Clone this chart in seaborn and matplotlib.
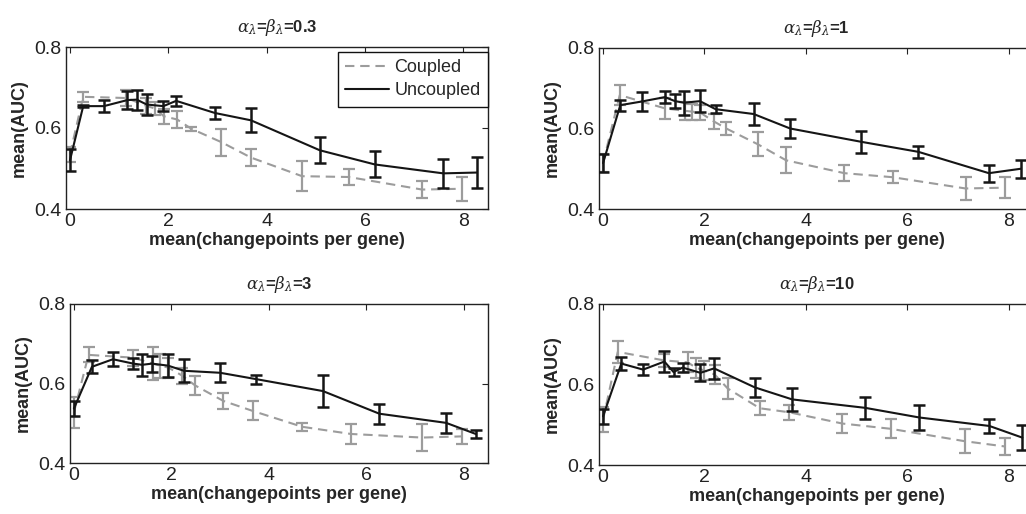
import matplotlib
matplotlib.use("Agg")
import matplotlib.pyplot as plt
import seaborn as sns
import pandas as pd

# ---------------- data ----------------
titles = [r"$\alpha_\lambda$=$\beta_\lambda$=0.3", r"$\alpha_\lambda$=$\beta_\lambda$=1",
          r"$\alpha_\lambda$=$\beta_\lambda$=3", r"$\alpha_\lambda$=$\beta_\lambda$=10"]
series_names = ["Coupled", "Uncoupled"]
x_ticks = [0, 2, 4, 6, 8]
y_ticks = [0.4, 0.6, 0.8]

unc_x_03 = [0.0, 0.27, 0.69, 1.17, 1.36, 1.56, 1.90, 2.16, 2.95, 3.68, 5.08, 6.20, 7.59, 8.27]
unc_y_03 = [0.520, 0.654, 0.654, 0.669, 0.670, 0.658, 0.654, 0.667, 0.637, 0.619, 0.545, 0.510, 0.488, 0.490]
unc_e_03 = [0.027, 0.003, 0.015, 0.022, 0.025, 0.027, 0.012, 0.013, 0.016, 0.030, 0.032, 0.032, 0.035, 0.038]
cou_x_03 = [0.0, 0.27, 1.15, 1.55, 1.73, 1.91, 2.18, 2.47, 3.08, 3.68, 4.72, 5.67, 7.16, 7.97]
cou_y_03 = [0.535, 0.677, 0.674, 0.655, 0.648, 0.629, 0.621, 0.598, 0.565, 0.527, 0.481, 0.479, 0.448, 0.450]
cou_e_03 = [0.018, 0.012, 0.020, 0.020, 0.017, 0.018, 0.020, 0.005, 0.033, 0.020, 0.037, 0.020, 0.020, 0.030]

unc_x_1 = [0.0, 0.34, 0.76, 1.22, 1.42, 1.60, 1.91, 2.22, 2.97, 3.69, 5.09, 6.22, 7.61, 8.24]
unc_y_1 = [0.514, 0.658, 0.667, 0.678, 0.668, 0.664, 0.668, 0.648, 0.636, 0.600, 0.567, 0.542, 0.489, 0.500]
unc_e_1 = [0.023, 0.014, 0.023, 0.014, 0.018, 0.030, 0.027, 0.010, 0.027, 0.024, 0.028, 0.015, 0.021, 0.022]
cou_x_1 = [0.0, 0.33, 1.22, 1.61, 1.75, 1.91, 2.18, 2.43, 3.05, 3.61, 4.76, 5.71, 7.15, 7.92]
cou_y_1 = [0.515, 0.683, 0.650, 0.644, 0.642, 0.640, 0.618, 0.600, 0.561, 0.521, 0.489, 0.479, 0.451, 0.453]
cou_e_1 = [0.022, 0.025, 0.027, 0.022, 0.020, 0.019, 0.019, 0.017, 0.030, 0.032, 0.020, 0.015, 0.028, 0.026]

unc_x_3 = [0.0, 0.37, 0.80, 1.22, 1.40, 1.60, 1.93, 2.26, 3.00, 3.74, 5.11, 6.27, 7.64, 8.25]
unc_y_3 = [0.537, 0.642, 0.661, 0.650, 0.647, 0.650, 0.645, 0.632, 0.627, 0.611, 0.581, 0.524, 0.501, 0.473]
unc_e_3 = [0.019, 0.016, 0.017, 0.014, 0.027, 0.020, 0.028, 0.029, 0.024, 0.011, 0.041, 0.025, 0.026, 0.010]
cou_x_3 = [0.0, 0.30, 1.22, 1.62, 1.77, 1.94, 2.22, 2.49, 3.07, 3.67, 4.69, 5.69, 7.15, 7.97]
cou_y_3 = [0.527, 0.672, 0.665, 0.650, 0.645, 0.640, 0.620, 0.595, 0.556, 0.531, 0.491, 0.473, 0.464, 0.467]
cou_e_3 = [0.038, 0.019, 0.020, 0.042, 0.030, 0.025, 0.020, 0.024, 0.021, 0.024, 0.010, 0.024, 0.035, 0.018]

unc_x_10 = [0.0, 0.36, 0.79, 1.21, 1.39, 1.57, 1.92, 2.19, 2.99, 3.73, 5.17, 6.24, 7.62, 8.27]
unc_y_10 = [0.521, 0.652, 0.637, 0.657, 0.631, 0.642, 0.629, 0.640, 0.593, 0.563, 0.542, 0.518, 0.497, 0.468]
unc_e_10 = [0.019, 0.016, 0.013, 0.025, 0.011, 0.011, 0.021, 0.027, 0.024, 0.028, 0.027, 0.030, 0.018, 0.031]
cou_x_10 = [0.0, 0.29, 1.20, 1.67, 1.83, 1.99, 2.20, 2.46, 3.09, 3.67, 4.72, 5.67, 7.14, 7.93]
cou_y_10 = [0.513, 0.681, 0.660, 0.655, 0.642, 0.635, 0.625, 0.590, 0.541, 0.531, 0.503, 0.490, 0.459, 0.446]
cou_e_10 = [0.031, 0.028, 0.017, 0.025, 0.025, 0.023, 0.023, 0.025, 0.017, 0.018, 0.024, 0.024, 0.030, 0.022]

panels = [
    (cou_x_03, cou_y_03, cou_e_03, unc_x_03, unc_y_03, unc_e_03),
    (cou_x_1, cou_y_1, cou_e_1, unc_x_1, unc_y_1, unc_e_1),
    (cou_x_3, cou_y_3, cou_e_3, unc_x_3, unc_y_3, unc_e_3),
    (cou_x_10, cou_y_10, cou_e_10, unc_x_10, unc_y_10, unc_e_10),
]

# ---------------- style ----------------
sns.set_theme(style="white")
plt.rcParams["font.family"] = ["Liberation Sans", "DejaVu Sans"]
plt.rcParams["mathtext.fontset"] = "dejavuserif"
plt.rcParams["xtick.direction"] = "in"
plt.rcParams["ytick.direction"] = "in"

GRAY = "#9c9c9c"
BLACK = "#151515"
palette = {"Coupled": GRAY, "Uncoupled": BLACK}
dashes = {"Coupled": (4.5, 2.8), "Uncoupled": ""}

W, H = 1026, 514
fig = plt.figure(figsize=(W / 100, H / 100), dpi=100)

def frac(l, r, t, b):
    return [l / W, 1 - b / H, (r - l) / W, (b - t) / H]

boxes = [frac(66, 488, 47, 209), frac(599, 1034, 48, 209),
         frac(70, 488, 304, 463), frac(599, 1034, 304, 465)]

for i, (box, data, title) in enumerate(zip(boxes, panels, titles)):
    cx, cy, ce, ux, uy, ue = data
    ax = fig.add_axes(box)
    df = pd.DataFrame({
        "x": list(cx) + list(ux),
        "y": list(cy) + list(uy),
        "series": ["Coupled"] * len(cx) + ["Uncoupled"] * len(ux),
    })
    ax.errorbar(cx, cy, yerr=ce, fmt="none", ecolor=GRAY, elinewidth=1.6,
                capsize=4.2, capthick=1.6, zorder=2)
    sns.lineplot(data=df, x="x", y="y", hue="series", style="series",
                 hue_order=series_names, style_order=series_names,
                 palette=palette, dashes=dashes, estimator=None, sort=False,
                 linewidth=1.5, ax=ax, zorder=3)
    ax.errorbar(ux, uy, yerr=ue, fmt="none", ecolor=BLACK, elinewidth=1.8,
                capsize=4.2, capthick=1.8, zorder=4)

    ax.set_xlim(-0.08, 8.5)
    ax.set_ylim(0.4, 0.8)
    ax.set_xticks(x_ticks)
    ax.set_yticks(y_ticks)
    ax.set_xticklabels([str(t) for t in x_ticks])
    ax.set_yticklabels([f"{t:.1f}" for t in y_ticks])
    ax.tick_params(axis="both", which="both", direction="in", length=4,
                   width=0.8, top=True, right=True, labelsize=14, pad=3,
                   colors="#222222")
    for s in ax.spines.values():
        s.set_color("#222222")
        s.set_linewidth(1.0)
    ax.set_xlabel("mean(changepoints per gene)", fontsize=13, fontweight="bold",
                  labelpad=1)
    ax.set_ylabel("mean(AUC)", fontsize=13, fontweight="bold", labelpad=5)
    ax.set_title(title, fontsize=12, fontweight="bold", pad=11)

    leg = ax.get_legend()
    if leg is not None:
        leg.remove()
    if i == 0:
        handles, labels = ax.get_legend_handles_labels()
        lg = ax.legend(handles, labels, loc="upper right",
                       bbox_to_anchor=(1.0, 0.97), borderaxespad=0,
                       frameon=True, fancybox=False, framealpha=1,
                       edgecolor="#111111", fontsize=13, handlelength=2.45,
                       handletextpad=0.3, labelspacing=0.35, borderpad=0.4)
        lg.get_frame().set_linewidth(1.0)

fig.savefig("out.png", dpi=100)
